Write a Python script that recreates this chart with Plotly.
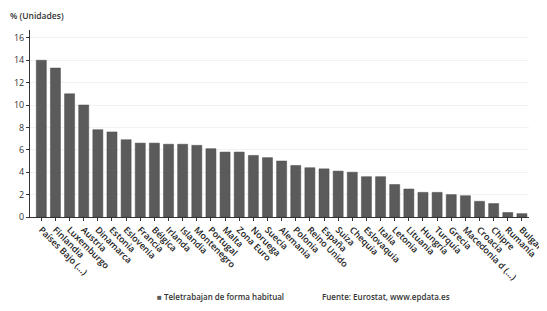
import plotly.graph_objects as go

paises = ["Países Bajo (...)", "Finlandia", "Luxemburgo", "Austria", "Dinamarca", "Estonia",
          "Eslovenia", "Francia", "Bélgica", "Irlanda", "Islandia", "Montenegro", "Portugal",
          "Malta", "Zona Euro", "Noruega", "Suecia", "Alemania", "Polonia", "Reino Unido",
          "España", "Suiza", "Chequia", "Eslovaquia", "Italia", "Letonia", "Lituania",
          "Hungría", "Turquía", "Grecia", "Macedonia d (...)", "Croacia", "Chipre",
          "Rumanía", "Bulgaria"]
valores = [14.0, 13.3, 11.0, 10.0, 7.8, 7.6, 6.9, 6.6, 6.6, 6.5, 6.5, 6.4, 6.1, 5.8, 5.8,
           5.5, 5.3, 5.0, 4.6, 4.4, 4.3, 4.1, 4.0, 3.6, 3.6, 2.9, 2.5, 2.2, 2.2, 2.0, 1.9,
           1.4, 1.2, 0.4, 0.3]
y_ticks = [0, 2, 4, 6, 8, 10, 12, 14, 16]
serie = "Teletrabajan de forma habitual"

font = "Open Sans"
fig = go.Figure()
fig.add_trace(go.Bar(x=paises, y=valores, name=serie, showlegend=False,
                     marker=dict(color="#5b5b5b", line=dict(color="#4a4a4a", width=0.5))))

# page body has an 8px margin: figure is drawn 8px lower/right than the window
OFF = 8
W, H = 547 - OFF, 311 - OFF
L, R, T, B = 30 - OFF, 18, 30 - OFF, 94
pw, ph = W - L - R, H - T - B

def px(x):
    return (x - OFF - L) / pw

def py(y):
    return (H - B - (y - OFF)) / ph

fig.update_layout(
    width=W, height=H,
    margin=dict(l=L, r=R, t=T, b=B),
    paper_bgcolor="white", plot_bgcolor="white",
    bargap=0.29,
    font=dict(family=font, size=9, color="#333"),
    showlegend=False,
    xaxis=dict(tickangle=45, range=[-0.8, len(paises) - 0.5],
               showline=True, linecolor="#333", linewidth=1,
               ticks="outside", ticklen=3, tickcolor="#333", automargin=False,
               tickfont=dict(size=9, color="#222", weight=600), showgrid=False),
    yaxis=dict(range=[0, 16.7], tickvals=y_ticks, showline=True, linecolor="#333",
               linewidth=1, ticks="outside", ticklen=3, tickcolor="#333", automargin=False,
               showgrid=True, gridcolor="#f2f2f2", zeroline=False,
               tickfont=dict(size=9, color="#333")),
    annotations=[
        dict(text="% (Unidades)", xref="paper", yref="paper", x=px(8), y=py(16),
             xanchor="left", yanchor="middle", showarrow=False,
             font=dict(size=8.5, color="#333", family=font, weight=600)),
        dict(text="<span style='color:#5b5b5b'>■</span> " + serie, xref="paper", yref="paper",
             x=px(155), y=py(296), xanchor="left", yanchor="middle", showarrow=False,
             font=dict(size=8, color="#333", family=font, weight=600)),
        dict(text="Fuente: Eurostat, www.epdata.es", xref="paper", yref="paper",
             x=px(320), y=py(296), xanchor="left", yanchor="middle", showarrow=False,
             font=dict(size=8, color="#333", family=font, weight=600)),
    ],
)
fig.write_html("out.html")
